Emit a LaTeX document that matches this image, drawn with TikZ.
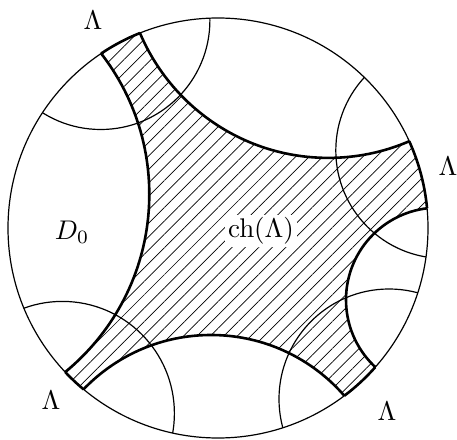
\documentclass[tikz,border=0pt]{standalone}
\usetikzlibrary{patterns.meta}
\begin{document}
\begin{tikzpicture}[x=1pt,y=1pt,
  thinline/.style={line width=1.2pt},
  thickline/.style={line width=2.6pt},
  hatch/.style={pattern={Lines[angle=45,distance=9.5pt,line width=0.7pt]}},
  lab/.style={scale=2.7, inner sep=0.5pt}]
\useasboundingbox (0,0) rectangle (457,439);
\coordinate (O) at (218,211);
\def\R{210}
% geodesic circle centres
\coordinate (gL) at (-80.6,244.7);
\coordinate (gT) at (328.3,485.5);
\coordinate (gR) at (438.1,139.25);
\coordinate (gB) at (211.0,-72.7);
\coordinate (t1) at (100.7,418.7);
\coordinate (t2) at (443.7,288.5);
\coordinate (t3) at (389.0,40.0);
\coordinate (t4) at (62.4,25.6);
\begin{scope}
  \clip (O) circle (\R);
  \fill[hatch] (O) circle (\R);
  \fill[white] (gL) circle (229.9);
  \fill[white] (gT) circle (204.4);
  \fill[white] (gR) circle (92.1);
  \fill[white] (gB) circle (176.7);
  \draw[thinline] (t1) circle (109.2);
  \draw[thinline] (t2) circle (107.9);
  \draw[thinline] (t3) circle (110.0);
  \draw[thinline] (t4) circle (112.0);
  \draw[thickline] (gL) circle (229.9);
  \draw[thickline] (gT) circle (204.4);
  \draw[thickline] (gR) circle (92.1);
  \draw[thickline] (gB) circle (176.7);
\end{scope}
\draw[thinline] (O) circle (\R);
\draw[thickline] (O) ++(111.8:\R) arc[start angle=111.8,end angle=123.8,radius=\R];
\draw[thickline] (O) ++(5.4:\R) arc[start angle=5.4,end angle=24.4,radius=\R];
\draw[thickline] (O) ++(-53.0:\R) arc[start angle=-53.0,end angle=-41.5,radius=\R];
\draw[thickline] (O) ++(223.3:\R) arc[start angle=223.3,end angle=230.2,radius=\R];
\node[lab] (lamA) at (93,419) {$\Lambda$};
\node[lab] (lamB) at (448,273) {$\Lambda$};
\node[lab] (lamC) at (51,39) {$\Lambda$};
\node[lab] (lamD) at (387,28) {$\Lambda$};
\node[lab] (d0) at (72,207) {$D_0$};
\node[lab,fill=white,inner sep=1pt] (ch) at (261,208) {$\mathrm{ch}(\Lambda)$};
\end{tikzpicture}
\end{document}
